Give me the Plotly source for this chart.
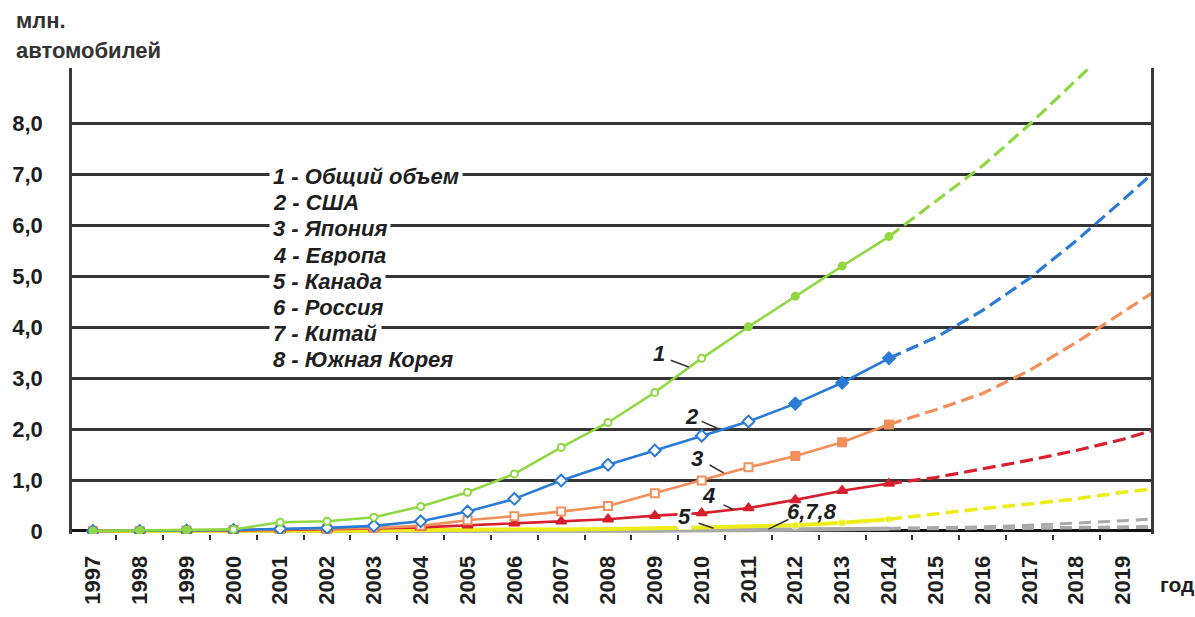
import plotly.graph_objects as go

# ---- data (млн. автомобилей) ----
years = list(range(1997, 2015))                 # фактические данные
forecast_years = list(range(2014, 2021))        # прогноз

total = [0.0, 0.01, 0.02, 0.03, 0.17, 0.19, 0.27, 0.48, 0.76, 1.12,
         1.64, 2.13, 2.72, 3.39, 4.01, 4.61, 5.20, 5.78]
total_fc = [5.78, 6.47, 7.17, 7.98, 8.84, 9.70, 10.60]

usa = [0.0, 0.0, 0.01, 0.02, 0.04, 0.06, 0.10, 0.19, 0.38, 0.63,
       0.99, 1.30, 1.58, 1.87, 2.15, 2.50, 2.91, 3.39]
usa_fc = [3.39, 3.80, 4.33, 4.96, 5.70, 6.50, 7.33]

japan = [0.0, 0.0, 0.01, 0.02, 0.03, 0.04, 0.06, 0.10, 0.21, 0.29,
         0.38, 0.49, 0.74, 0.99, 1.25, 1.47, 1.74, 2.09]
japan_fc = [2.09, 2.38, 2.70, 3.15, 3.70, 4.30, 4.90]

europe = [0.0, 0.0, 0.0, 0.01, 0.02, 0.03, 0.05, 0.07, 0.11, 0.15,
          0.19, 0.23, 0.30, 0.35, 0.45, 0.61, 0.79, 0.93]
europe_fc = [0.93, 1.05, 1.22, 1.39, 1.58, 1.80, 2.08]

canada = [0.0, 0.0, 0.0, 0.0, 0.0, 0.01, 0.01, 0.02, 0.02, 0.03,
          0.03, 0.04, 0.05, 0.07, 0.09, 0.11, 0.16, 0.23]
canada_fc = [0.23, 0.34, 0.44, 0.53, 0.63, 0.76, 0.86]

russia = [0.0] * 13 + [0.02, 0.03, 0.04, 0.05, 0.05]
russia_fc = [0.05, 0.05, 0.06, 0.06, 0.07, 0.08, 0.09]
china = [0.0] * 13 + [0.01, 0.02, 0.03, 0.04, 0.05]
china_fc = [0.05, 0.06, 0.08, 0.11, 0.15, 0.20, 0.26]
korea = [0.0] * 14 + [0.01, 0.02, 0.03, 0.04]
korea_fc = [0.04, 0.04, 0.05, 0.05, 0.06, 0.06, 0.07]

legend_lines = ["1 - Общий объем", "2 - США", "3 - Япония", "4 - Европа",
                "5 - Канада", "6 - Россия", "7 - Китай", "8 - Южная Корея"]

y_ticks = [0, 1, 2, 3, 4, 5, 6, 7, 8]
y_tick_text = ["0", "1,0", "2,0", "3,0", "4,0", "5,0", "6,0", "7,0", "8,0"]
x_ticks = list(range(1997, 2020))
x_tick_text = [str(y) for y in x_ticks]

# ---- page geometry ----
W, H = 1195, 617
M_L, M_R, M_T, M_B = 68, 44, 68, 69
X_RANGE = [1996.553, 2019.596]
Y_RANGE = [-0.06, 9.09]

FONT = "Liberation Sans, Arial, Helvetica, sans-serif"
INK = "#1e1e1e"
GRID = "#353535"

GREEN = "#8fd843"
BLUE = "#2a7bd6"
ORANGE = "#f28f5a"
RED = "#d81f2d"
YELLOW = "#eded1c"
GRAY = "#a9a9a9"


def px_x(px):
    """Convert a horizontal page pixel to an x-axis value."""
    return X_RANGE[0] + (px - M_L) / (W - M_L - M_R) * (X_RANGE[1] - X_RANGE[0])


def px_y(py):
    """Convert a vertical page pixel to a y-axis value."""
    return Y_RANGE[1] - (py - M_T) / (H - M_T - M_B) * (Y_RANGE[1] - Y_RANGE[0])


def fills(color, hollow_from, hollow_to):
    """Marker fill: white (hollow) for a span of years, solid otherwise."""
    return ["white" if hollow_from <= y <= hollow_to else color for y in years]


fig = go.Figure()

# gray group: Russia, China, South Korea
for act, fc in [(russia, russia_fc), (korea, korea_fc), (china, china_fc)]:
    fig.add_trace(go.Scatter(x=years, y=act, mode="lines",
                             line=dict(color=GRAY, width=3.5)))
    fig.add_trace(go.Scatter(x=forecast_years, y=fc, mode="lines",
                             line=dict(color=GRAY, width=3, dash="12px,7px")))

# Canada: thick yellow line, markers only on the recent years
fig.add_trace(go.Scatter(
    x=years, y=canada, mode="lines+markers",
    line=dict(color=YELLOW, width=4),
    marker=dict(symbol="circle", color=YELLOW,
                size=[8 if y >= 2012 else 0 for y in years]),
))
fig.add_trace(go.Scatter(x=forecast_years, y=canada_fc, mode="lines",
                         line=dict(color=YELLOW, width=3.6, dash="13px,6px")))

series = [
    # values, forecast, colour, marker symbol, size, hollow span
    (europe, europe_fc, RED, "triangle-up", 9, None),
    (japan, japan_fc, ORANGE, "square", 8, (2000, 2011)),
    (usa, usa_fc, BLUE, "diamond", 9, (2000, 2011)),
    (total, total_fc, GREEN, "circle", 7, (2000, 2010)),
]

for act, fc, color, symbol, size, hollow in series:
    mcolor = fills(color, *hollow) if hollow else color
    fig.add_trace(go.Scatter(
        x=years, y=act, mode="lines+markers",
        line=dict(color=color, width=2.6),
        marker=dict(symbol=symbol, size=size, color=mcolor,
                    line=dict(color=color, width=2)),
    ))
    fig.add_trace(go.Scatter(
        x=forecast_years, y=fc, mode="lines",
        line=dict(color=color, width=3.2, dash="13px,6px"),
    ))

# ---- legend block (text with white backing over grid lines) ----
annotations = []
row0, row_step = 180, 26.9
for i, txt in enumerate(legend_lines):
    annotations.append(dict(
        x=px_x(266), y=px_y(row0 + i * row_step), xref="x", yref="y",
        xanchor="left", yanchor="middle", text=txt, showarrow=False,
        bgcolor="white", borderpad=3,
        font=dict(family=FONT, size=22, color=INK, weight="bold", style="italic"),
    ))

# ---- series numbers with leader lines ----
tags = [
    ("1", (657, 362), ((669, 369), (687, 376)), False),
    ("2", (690, 427), ((700, 432), (718, 440)), False),
    ("3", (695, 470), ((708, 477), (722, 485)), False),
    ("4", (707, 508), ((722, 518), (732, 523)), False),
    ("5", (683, 530), ((697, 537), (712, 542)), True),
    ("6,7,8", (811, 525), ((787, 533), (767, 543)), False),
]
shapes = []
for txt, (tx, ty), ((x0, y0), (x1, y1)), backed in tags:
    annotations.append(dict(
        x=px_x(tx), y=px_y(ty), xref="x", yref="y", text=txt,
        showarrow=False, xanchor="center", yanchor="middle",
        bgcolor="white" if backed else "rgba(0,0,0,0)", borderpad=0,
        font=dict(family=FONT, size=22, color=INK, weight="bold", style="italic"),
    ))
    shapes.append(dict(type="line", xref="x", yref="y",
                       x0=px_x(x0), y0=px_y(y0), x1=px_x(x1), y1=px_y(y1),
                       line=dict(color="#333333", width=1.6)))

# axis captions (positions in page pixels, converted to paper units below)
captions = [
    dict(x=10, y=4, text="млн.", yanchor="top", size=22, color="#333333"),
    dict(x=10, y=35, text="автомобилей", yanchor="top", size=22, color="#333333"),
    dict(x=1158, y=600, text="год", yanchor="middle", size=21, color=INK),
]
for c in captions:
    annotations.append(dict(
        x=(c["x"] - M_L) / (W - M_L - M_R), y=1 - (c["y"] - M_T) / (H - M_T - M_B),
        xref="paper", yref="paper", text=c["text"], showarrow=False,
        xanchor="left", yanchor=c["yanchor"],
        font=dict(family=FONT, size=c["size"], color=c["color"], weight="bold"),
    ))

fig.update_layout(
    width=W, height=H,
    margin=dict(l=M_L, r=M_R, t=M_T, b=M_B),
    paper_bgcolor="white", plot_bgcolor="white",
    showlegend=False,
    annotations=annotations,
    shapes=shapes,
    xaxis=dict(
        range=X_RANGE, tickvals=x_ticks, ticktext=x_tick_text,
        tickangle=-90, showgrid=False, zeroline=False, showline=False,
        ticks="outside", ticklen=0, ticklabelstandoff=12,
        tickfont=dict(family=FONT, size=22, color=INK, weight="bold"),
        minor=dict(tickvals=[y + 0.5 for y in x_ticks[:-1]], ticks="outside",
                   ticklen=5, tickwidth=2, tickcolor="#333333", showgrid=False),
    ),
    yaxis=dict(
        range=Y_RANGE, tickvals=y_ticks, ticktext=y_tick_text,
        showgrid=True, gridcolor=GRID, gridwidth=2.6,
        zeroline=True, zerolinecolor="#111111", zerolinewidth=2.6,
        showline=True, linecolor="#3a3a3a", linewidth=2.6, mirror=True,
        ticks="", ticklabelstandoff=22,
        tickfont=dict(family=FONT, size=22, color=INK, weight="bold"),
    ),
)

fig.write_html("out.html")
